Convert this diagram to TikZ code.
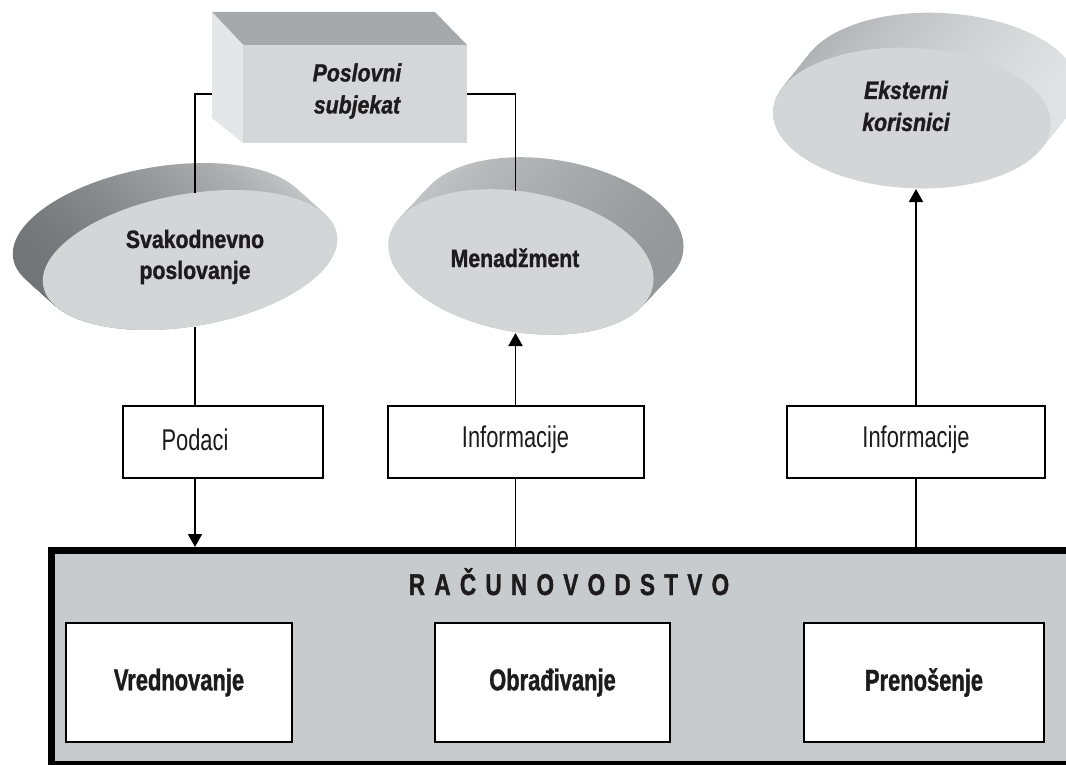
\documentclass[tikz,border=0pt]{standalone}
\usepackage{fontspec}
\usetikzlibrary{arrows.meta}
\newfontfamily\labf[FakeStretch=0.73,BoldFeatures={FakeBold=1.2}]{Liberation Sans}
\newfontfamily\ellf[FakeStretch=0.85,BoldFeatures={FakeBold=1.2},BoldItalicFeatures={FakeBold=1.2}]{Liberation Sans}
\newfontfamily\titf[FakeStretch=0.75,LetterSpace=31,BoldFeatures={FakeBold=1.2}]{Liberation Sans}
\definecolor{facegray}{RGB}{211,213,215}
\definecolor{boxfront}{RGB}{212,214,216}
\definecolor{boxtop}{RGB}{166,169,172}
\definecolor{boxside}{RGB}{229,230,232}
\definecolor{racgray}{RGB}{200,203,206}
\definecolor{inkc}{RGB}{30,27,28}
\definecolor{rimAL}{RGB}{112,114,117}
\definecolor{rimAR}{RGB}{202,204,206}
\definecolor{rimBL}{RGB}{198,200,202}
\definecolor{rimBR}{RGB}{148,150,153}
\definecolor{rimCL}{RGB}{172,174,177}
\definecolor{rimCR}{RGB}{226,227,229}
% cx, cy, rx, ry, rot, dx, dy, left colour, right colour
\newcommand{\mydisc}[9]{%
  \foreach \k in {0,...,32}{%
    \pgfmathsetmacro{\fr}{1-\k/32}%
    \shade[shift={({#1+(#6)*\fr},{#2+(#7)*\fr})}, rotate=#5, left color=#8, right color=#9]
      (0,0) ellipse [x radius=#3, y radius=#4];
  }%
  \fill[facegray, shift={(#1,#2)}, rotate=#5] (0,0) ellipse [x radius=#3, y radius=#4];
}
\tikzset{
  conn/.style={draw=black, line width=1.9pt},
  arr/.style={conn, -{Triangle[length=13pt,width=14pt]}},
  flowbox/.style={draw=black, line width=2pt, fill=white, inner sep=0pt, minimum height=72pt},
  flowtext/.style={text=inkc, inner sep=0pt, font=\labf\fontsize{30}{34}\selectfont},
  inbox/.style={draw=black, line width=2pt, fill=white, inner sep=0pt, minimum height=119pt, text=inkc, font=\labf\bfseries\fontsize{30}{34}\selectfont},
  ellt/.style={text=inkc, inner sep=0pt, align=center, font=\ellf\bfseries\fontsize{25}{31}\selectfont},
  ellti/.style={ellt, font=\ellf\bfseries\itshape\fontsize{25}{32}\selectfont}
}
\begin{document}
\begin{tikzpicture}[x=1pt,y=-1pt]
\useasboundingbox (0,0) rectangle (1066,765);
\fill[white] (0,0) rectangle (1066,765);

% business entity box
\fill[boxtop] (212,12) -- (435,12) -- (467,45) -- (243,45) -- cycle;
\fill[boxside] (212,12) -- (243,45) -- (243,143) -- (212,118) -- cycle;
\node[fill=boxfront, minimum width=224pt, minimum height=98pt, inner sep=0pt] (ps) at (355,94) {};
\node[ellti] (pstext) at (357,91) {Poslovni\\subjekat};
\coordinate (psL) at (212,94);

% discs
\mydisc{190}{260}{149}{66}{10}{-30}{-27}{rimAL}{rimAR}
\mydisc{521}{262}{134}{70}{-10}{30}{-32}{rimBL}{rimBR}
\mydisc{912}{118}{139}{70}{-3}{28}{-35}{rimCL}{rimCR}
\node[ellt] (svak) at (195,257) {Svakodnevno\\poslovanje};
\node[ellt, anchor=base] (men) at (515,267) {Menadžment};
\node[ellti] (eks) at (906,106) {Eksterni\\korisnici};
\coordinate (svakTop) at (195,193);
\coordinate (svakBot) at (195,327);
\coordinate (menTop) at (515.5,191);
\coordinate (menBot) at (515.5,333);
\coordinate (eksBot) at (916,189);

% flow boxes
\node[flowbox, minimum width=200pt] (podaci) at (223,442) {};
\node[flowtext] (podacit) at (195,440) {Podaci};
\node[flowbox, minimum width=256pt] (inf2) at (515.5,442) {};
\node[flowtext] (inf2t) at (515.5,440) {Informacije};
\node[flowbox, minimum width=258pt] (inf3) at (916,442) {};
\node[flowtext] (inf3t) at (916,440) {Informacije};

% accounting block
\node[draw=black, line width=7pt, fill=racgray, minimum width=1030pt, minimum height=214pt, inner sep=0pt] (rac) at (566,657.5) {};
\node[text=inkc, inner sep=0pt, anchor=base, font=\titf\bfseries\fontsize{30}{34}\selectfont] (ractit) at (569,595) {RAČUNOVODSTVO};
\node[inbox, minimum width=226pt] (vred) at (179,682.5) {Vrednovanje};
\node[inbox, minimum width=235pt] (obr) at (552.5,682.5) {Obrađivanje};
\node[inbox, minimum width=240pt] (pren) at (924,682.5) {Prenošenje};

% connectors
\draw[conn] (psL) -| (svakTop);
\draw[conn] (ps.east) -| (menTop);
\draw[conn] (svakBot) -- (svakBot |- podaci.north);
\draw[arr] (svakBot |- podaci.south) -- (svakBot |- rac.north);
\draw[conn] (rac.north -| inf2.south) -- (inf2.south);
\draw[arr] (inf2.north) -- (menBot);
\draw[conn] (rac.north -| inf3.south) -- (inf3.south);
\draw[arr] (inf3.north) -- (eksBot);
\end{tikzpicture}
\end{document}
